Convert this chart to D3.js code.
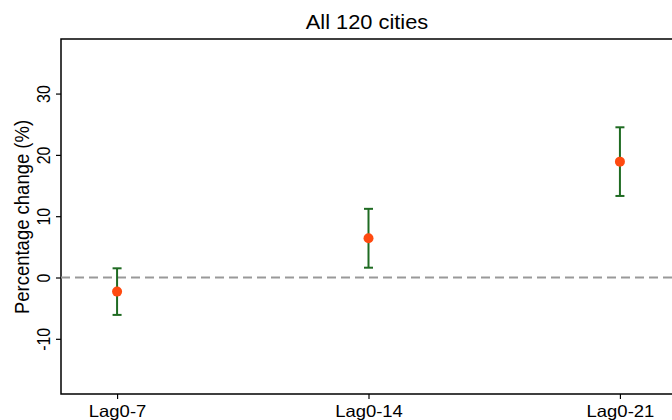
<!DOCTYPE html>
<html>
<head>
<meta charset="utf-8">
<script src="https://cdn.jsdelivr.net/npm/d3@7"></script>
<style>
  body { margin: 0; background: #fff; }
  svg { display: block; font-family: "Liberation Sans", Arial, sans-serif; }
</style>
</head>
<body>
<svg id="chart" width="672" height="420"></svg>
<script>
var lags = ['Lag0-7', 'Lag0-14', 'Lag0-21'];
var estimates = [-2.3, 6.4, 18.9];
var lowers = [-6.1, 1.6, 13.3];
var uppers = [1.5, 11.2, 24.5];
var yTicks = [-10, 0, 10, 20, 30];

var svg = d3.select('#chart'),
    pLeft = 61, pTop = 39, pRight = 676, pBottom = 394,
    stretch = 1.12; // the source picture is a bit wider than tall

var x = d3.scaleLinear().domain([0.777, 3.223]).range([pLeft, pRight]);
var y = d3.scaleLinear().domain([-19, 38.9]).range([pBottom, pTop]);

// frame: left, top, bottom
svg.append('path')
  .attr('d', 'M' + pRight + ',' + pTop + 'H' + pLeft + 'V' + pBottom + 'H' + pRight)
  .attr('fill', 'none')
  .attr('stroke', '#000')
  .attr('stroke-width', 1.5);

var yAxis = svg.append('g')
  .attr('transform', 'translate(' + pLeft + ',0)')
  .call(d3.axisLeft(y).tickValues(yTicks).tickFormat(function (d) { return String(d); })
    .tickSize(5).tickPadding(4));
yAxis.select('.domain').remove();
yAxis.selectAll('line').attr('stroke-width', 1.2);
yAxis.selectAll('text')
  .attr('font-size', 16)
  .attr('fill', '#000')
  .attr('x', 0)
  .attr('y', 0)
  .attr('dy', 0)
  .attr('text-anchor', 'middle')
  .attr('transform', 'translate(-11,0) scale(' + stretch + ',1) rotate(-90)');

var xAxis = svg.append('g')
  .attr('transform', 'translate(0,' + pBottom + ')')
  .call(d3.axisBottom(x).tickValues([1, 2, 3]).tickFormat(function (d) { return lags[d - 1]; })
    .tickSize(5).tickPadding(3));
xAxis.select('.domain').remove();
xAxis.selectAll('line').attr('stroke-width', 1.2);
xAxis.selectAll('text')
  .attr('font-size', 16.5)
  .attr('fill', '#000')
  .attr('y', 0)
  .attr('dy', 0)
  .attr('transform', 'translate(0,22.5) scale(' + stretch + ',1)');

// zero reference line
svg.append('line')
  .attr('x1', pLeft).attr('x2', pRight)
  .attr('y1', y(0)).attr('y2', y(0))
  .attr('stroke', '#999')
  .attr('stroke-width', 2)
  .attr('stroke-dasharray', '9,5');

var bars = svg.append('g').selectAll('g')
  .data(lags)
  .enter()
  .append('g');

bars.append('line')
  .attr('x1', function (d, i) { return x(i + 1); })
  .attr('x2', function (d, i) { return x(i + 1); })
  .attr('y1', function (d, i) { return y(lowers[i]); })
  .attr('y2', function (d, i) { return y(uppers[i]); })
  .attr('stroke', '#1f6b22')
  .attr('stroke-width', 2);

[lowers, uppers].forEach(function (arr) {
  bars.append('line')
    .attr('x1', function (d, i) { return x(i + 1) - 4.5; })
    .attr('x2', function (d, i) { return x(i + 1) + 4.5; })
    .attr('y1', function (d, i) { return y(arr[i]); })
    .attr('y2', function (d, i) { return y(arr[i]); })
    .attr('stroke', '#1f6b22')
    .attr('stroke-width', 2);
});

bars.append('circle')
  .attr('cx', function (d, i) { return x(i + 1); })
  .attr('cy', function (d, i) { return y(estimates[i]); })
  .attr('r', 5)
  .attr('fill', '#ff4a10');

svg.append('text')
  .attr('transform', 'translate(367,29) scale(' + stretch + ',1)')
  .attr('text-anchor', 'middle')
  .attr('font-size', 19.5)
  .text('All 120 cities');

svg.append('text')
  .attr('transform', 'translate(29,217) scale(' + stretch + ',1) rotate(-90)')
  .attr('text-anchor', 'middle')
  .attr('font-size', 18.5)
  .text('Percentage change (%)');
</script>
</body>
</html>
